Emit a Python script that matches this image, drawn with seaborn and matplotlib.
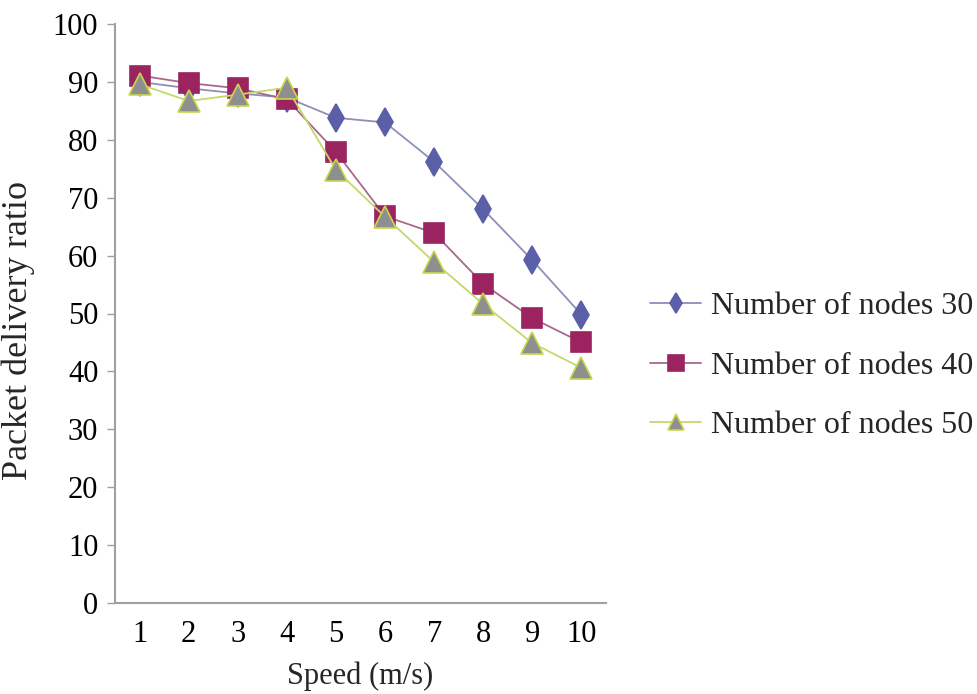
import matplotlib
matplotlib.use("Agg")
import matplotlib.pyplot as plt
import seaborn as sns
import pandas as pd

speed = [1, 2, 3, 4, 5, 6, 7, 8, 9, 10]
nodes_30 = [90.0, 88.9, 88.0, 87.3, 83.8, 83.0, 76.2, 68.0, 59.2, 49.8]
nodes_40 = [91.1, 89.8, 88.9, 87.0, 77.9, 66.8, 63.9, 55.1, 49.2, 45.0]
nodes_50 = [89.6, 86.7, 87.8, 89.0, 74.8, 66.7, 58.9, 51.6, 44.9, 40.6]
labels = ["Number of nodes 30", "Number of nodes 40", "Number of nodes 50"]
y_ticks = [0, 10, 20, 30, 40, 50, 60, 70, 80, 90, 100]

sns.set_style("white")
plt.rcParams['font.family'] = ['Liberation Serif', 'DejaVu Serif']

fig = plt.figure(figsize=(9.78, 6.94), dpi=100)
ax = fig.add_axes([115/978, 1 - 603/694, (606 - 115)/978, (603 - 24)/694])

df = pd.DataFrame({"speed": speed, "n30": nodes_30, "n40": nodes_40, "n50": nodes_50})

styles = [
    ("n30", "#8f8fb8", "d", 14, "#5b5fa8", "#5b5fa8"),
    ("n40", "#a8688c", "s", 14.5, "#9b2460", "#9b2460"),
    ("n50", "#c5d86a", "^", 15.5, "#8e9090", "#c8d64c"),
]
handles = []
for (col, lc, mk, ms, fc, ec), lab in zip(styles, labels):
    sns.lineplot(data=df, x="speed", y=col, ax=ax, color=lc, linewidth=1.3,
                 marker=mk, markersize=ms, markerfacecolor=fc,
                 markeredgecolor=ec, markeredgewidth=1.2, label=lab, legend=False)
    handles.append(ax.lines[-1])

ax.set_xlim(0.5, 10.5)
ax.set_ylim(0, 100)
ax.set_xticks(speed)
ax.set_xticklabels([str(s) for s in speed])
ax.set_yticks(y_ticks)
ax.tick_params(axis="x", length=0, pad=12, labelsize=22, colors="black")
ax.tick_params(axis="y", length=6, width=1, color="#a0a0a0", pad=6,
               labelsize=22, labelcolor="black", left=True)
for s in ["top", "right"]:
    ax.spines[s].set_visible(False)
for s in ["left", "bottom"]:
    ax.spines[s].set_color("#a0a0a0")
    ax.spines[s].set_linewidth(1.5)

ax.set_xlabel("Speed (m/s)", fontsize=22, labelpad=9)
ax.set_ylabel("Packet delivery ratio", fontsize=26)
ax.yaxis.set_label_coords((35 - 115)/491, (603 - 330)/579)

fig.legend(handles=handles, labels=labels, loc="center left",
           bbox_to_anchor=(634/978, 1 - 366/694), frameon=False,
           fontsize=23, handlelength=1.6, handletextpad=0.3,
           labelspacing=0.95, borderpad=0, markerscale=0.75)

fig.savefig("out.png", dpi=100)
